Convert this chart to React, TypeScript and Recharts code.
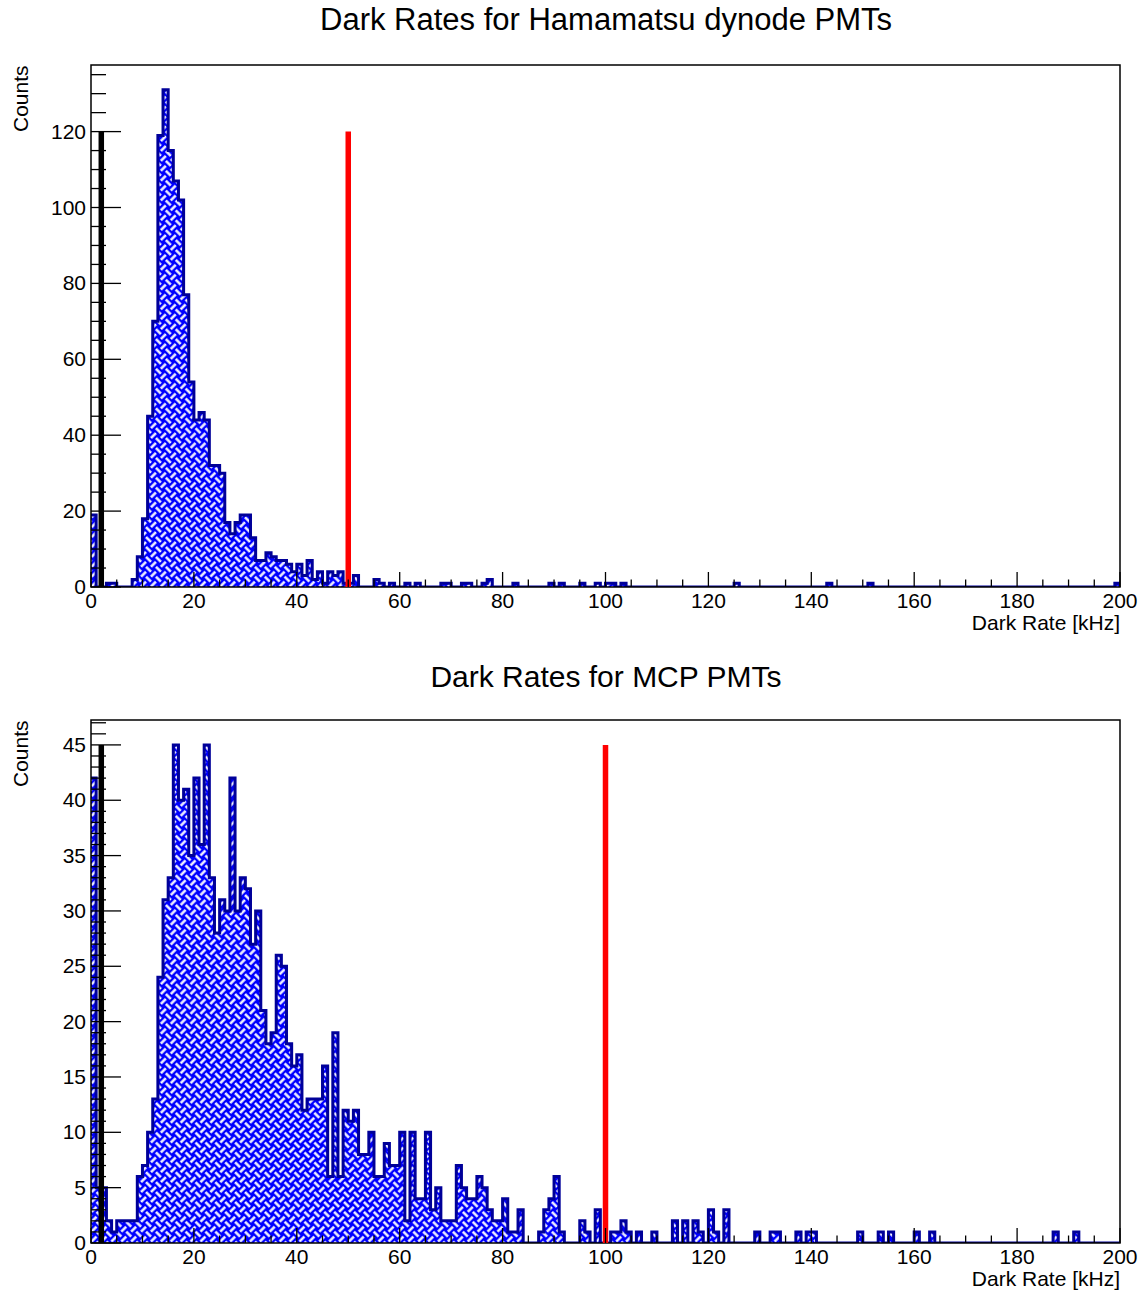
import React from 'react'
import { ComposedChart, Area, XAxis, YAxis, ReferenceLine, ReferenceArea } from 'recharts'

// counts per 1 kHz bin, 0..200 kHz
const hamamatsuCounts = [
  19, 0, 0, 1, 1, 0, 0, 0, 2, 8,
  18, 45, 70, 119, 131, 115, 107, 102, 77, 54,
  44, 46, 44, 32, 32, 30, 17, 14, 17, 19,
  19, 13, 7, 7, 9, 8, 7, 7, 6, 4,
  6, 3, 7, 2, 4, 1, 4, 3, 4, 1,
  1, 3, 0, 0, 0, 2, 1, 0, 1, 0,
  0, 1, 0, 1, 0, 0, 0, 0, 1, 1,
  0, 0, 1, 1, 0, 0, 1, 2, 0, 0,
  0, 0, 1, 0, 0, 0, 0, 0, 0, 1,
  0, 1, 0, 0, 0, 1, 0, 0, 1, 0,
  1, 1, 0, 1, 0, 0, 0, 0, 0, 0,
  0, 0, 0, 0, 0, 0, 0, 0, 0, 0,
  0, 0, 0, 0, 0, 1, 0, 0, 0, 0,
  0, 0, 0, 0, 0, 0, 0, 0, 0, 0,
  0, 0, 0, 1, 0, 0, 0, 0, 0, 0,
  0, 1, 0, 0, 0, 0, 0, 0, 0, 0,
  0, 0, 0, 0, 0, 0, 0, 0, 0, 0,
  0, 0, 0, 0, 0, 0, 0, 0, 0, 0,
  0, 0, 0, 0, 0, 0, 0, 0, 0, 0,
  0, 0, 0, 0, 0, 0, 0, 0, 0, 1,
]

const mcpCounts = [
  42, 5, 5, 2, 1, 2, 2, 2, 2, 6,
  7, 10, 13, 24, 31, 33, 45, 40, 41, 35,
  42, 36, 45, 33, 28, 31, 30, 42, 30, 33,
  32, 27, 30, 21, 18, 19, 26, 25, 18, 16,
  17, 12, 13, 13, 13, 16, 6, 19, 6, 12,
  11, 12, 8, 8, 10, 6, 6, 9, 7, 7,
  10, 2, 10, 4, 4, 10, 3, 5, 2, 2,
  2, 7, 5, 4, 4, 6, 5, 3, 2, 2,
  4, 1, 1, 3, 0, 0, 0, 1, 3, 4,
  6, 1, 0, 0, 0, 2, 1, 0, 3, 0,
  0, 1, 1, 2, 1, 0, 1, 0, 0, 1,
  0, 0, 0, 2, 0, 2, 0, 2, 1, 0,
  3, 1, 0, 3, 0, 0, 0, 0, 0, 1,
  0, 0, 1, 1, 0, 0, 0, 1, 0, 1,
  1, 0, 0, 0, 0, 0, 0, 0, 0, 1,
  0, 0, 0, 1, 0, 1, 0, 0, 0, 0,
  1, 0, 0, 1, 0, 0, 0, 0, 0, 0,
  0, 0, 0, 0, 0, 0, 0, 0, 0, 0,
  0, 0, 0, 0, 0, 0, 0, 1, 0, 0,
  0, 1, 0, 0, 0, 0, 0, 0, 0, 0,
]

const xLabels = [0, 20, 40, 60, 80, 100, 120, 140, 160, 180, 200]
const hamamatsuYLabels = [0, 20, 40, 60, 80, 100, 120]
const mcpYLabels = [0, 5, 10, 15, 20, 25, 30, 35, 40, 45]

// cut lines: position and height
const hamamatsuLow = { x: 2, h: 120 }
const hamamatsuHigh = { x: 50, h: 120 }
const mcpLow = { x: 2, h: 45 }
const mcpHigh = { x: 100, h: 45 }

const FONT = '"Liberation Sans", Arial, Helvetica, sans-serif'
const NAVY = '#000099'

function toSteps(counts: number[]) {
  const rows = counts.map((c, i) => ({ x: i, n: c }))
  rows.push({ x: counts.length, n: counts[counts.length - 1] })
  return rows
}

function range(step: number, max: number) {
  const out: number[] = []
  for (let v = 0; v <= max + 1e-9; v += step) out.push(v)
  return out
}

const XTick = (props: any) => {
  const { x, y, payload } = props
  const v = payload.value
  const major = xLabels.includes(v)
  return (
    <g>
      <line x1={x} x2={x} y1={y} y2={y - (major ? 15 : 7.5)} stroke="#000" strokeWidth={1.3} />
      {major && (
        <text x={x} y={y + 21} textAnchor="middle" fontSize={21} fontFamily={FONT} fill="#000">
          {v}
        </text>
      )}
    </g>
  )
}

const makeYTick = (labels: number[]) => (props: any) => {
  const { x, y, payload } = props
  const v = payload.value
  const major = labels.includes(v)
  return (
    <g>
      <line x1={x} x2={x + (major ? 30 : 15)} y1={y} y2={y} stroke="#000" strokeWidth={1.3} />
      {major && (
        <text x={x - 5} y={y + 7} textAnchor="end" fontSize={21} fontFamily={FONT} fill="#000">
          {v}
        </text>
      )}
    </g>
  )
}

const Weave = ({ id }: { id: string }) => (
  <defs>
    <pattern id={id} width={14} height={14} patternUnits="userSpaceOnUse" patternTransform="rotate(45)">
      <rect width={14} height={14} fill="#0000ff" />
      <rect x={0} y={2.3} width={7} height={2.4} fill="#fff" />
      <rect x={9.3} y={0} width={2.4} height={7} fill="#fff" />
      <rect x={2.3} y={7} width={2.4} height={7} fill="#fff" />
      <rect x={7} y={9.3} width={7} height={2.4} fill="#fff" />
    </pattern>
  </defs>
)

type PanelProps = {
  id: string
  counts: number[]
  yMax: number
  yStep: number
  yLabels: number[]
  low: { x: number; h: number }
  high: { x: number; h: number }
  height: number
  bottom: number
}

function Panel({ id, counts, yMax, yStep, yLabels, low, high, height, bottom }: PanelProps) {
  const data = toSteps(counts)
  return (
    <ComposedChart
      width={1145}
      height={height}
      data={data}
      margin={{ top: 65, right: 25, bottom: bottom - 30, left: 31 }}
      style={{ overflow: 'visible' }}
    >
      <Weave id={id} />
      <XAxis
        dataKey="x"
        type="number"
        domain={[0, 200]}
        ticks={range(5, 200)}
        interval={0}
        height={30}
        tickSize={0}
        tickMargin={0}
        axisLine={false}
        tickLine={false}
        tick={XTick}
        allowDataOverflow
      />
      <YAxis
        type="number"
        domain={[0, yMax]}
        ticks={range(yStep, yMax)}
        interval={0}
        width={60}
        tickSize={0}
        tickMargin={0}
        axisLine={false}
        tickLine={false}
        tick={makeYTick(yLabels)}
        allowDataOverflow
      />
      <Area
        type="stepAfter"
        dataKey="n"
        stroke={NAVY}
        strokeWidth={3}
        fill={`url(#${id})`}
        fillOpacity={1}
        dot={false}
        activeDot={false}
        isAnimationActive={false}
      />
      <ReferenceLine
        segment={[{ x: low.x, y: 0 }, { x: low.x, y: low.h }]}
        stroke="#000"
        strokeWidth={5.5}
      />
      <ReferenceLine
        segment={[{ x: high.x, y: 0 }, { x: high.x, y: high.h }]}
        stroke="#ff0000"
        strokeWidth={5.5}
      />
      <ReferenceArea x1={0} x2={200} y1={0} y2={yMax} fill="none" stroke="#000" strokeWidth={1.5} />
    </ComposedChart>
  )
}

const textStyle: React.CSSProperties = {
  position: 'absolute',
  fontFamily: FONT,
  color: '#000',
  whiteSpace: 'nowrap',
  lineHeight: 1,
}

export default function App() {
  return (
    <div style={{ position: 'absolute', left: 0, top: 0, width: 1145, height: 1291, background: '#fff', overflow: 'hidden' }}>
      <div style={{ position: 'absolute', left: 0, top: 0 }}>
        <Panel
          id="weaveTop"
          counts={hamamatsuCounts}
          yMax={137.55}
          yStep={5}
          yLabels={hamamatsuYLabels}
          low={hamamatsuLow}
          high={hamamatsuHigh}
          height={640}
          bottom={53}
        />
      </div>
      <div style={{ position: 'absolute', left: 0, top: 655 }}>
        <Panel
          id="weaveBottom"
          counts={mcpCounts}
          yMax={47.25}
          yStep={1}
          yLabels={mcpYLabels}
          low={mcpLow}
          high={mcpHigh}
          height={636}
          bottom={48}
        />
      </div>

      <div style={{ ...textStyle, left: 0, width: 1212, top: 4, fontSize: 31, textAlign: 'center' }}>
        Dark Rates for Hamamatsu dynode PMTs
      </div>
      <div style={{ ...textStyle, left: 0, width: 1212, top: 662, fontSize: 30, textAlign: 'center' }}>
        Dark Rates for MCP PMTs
      </div>

      <div style={{ ...textStyle, right: 25, top: 612, fontSize: 21 }}>Dark Rate [kHz]</div>
      <div style={{ ...textStyle, right: 25, top: 1268, fontSize: 21 }}>Dark Rate [kHz]</div>

      <div style={{ ...textStyle, left: 10, top: 132, fontSize: 21, transform: 'rotate(-90deg)', transformOrigin: 'left top' }}>
        Counts
      </div>
      <div style={{ ...textStyle, left: 10, top: 787, fontSize: 21, transform: 'rotate(-90deg)', transformOrigin: 'left top' }}>
        Counts
      </div>
    </div>
  )
}
